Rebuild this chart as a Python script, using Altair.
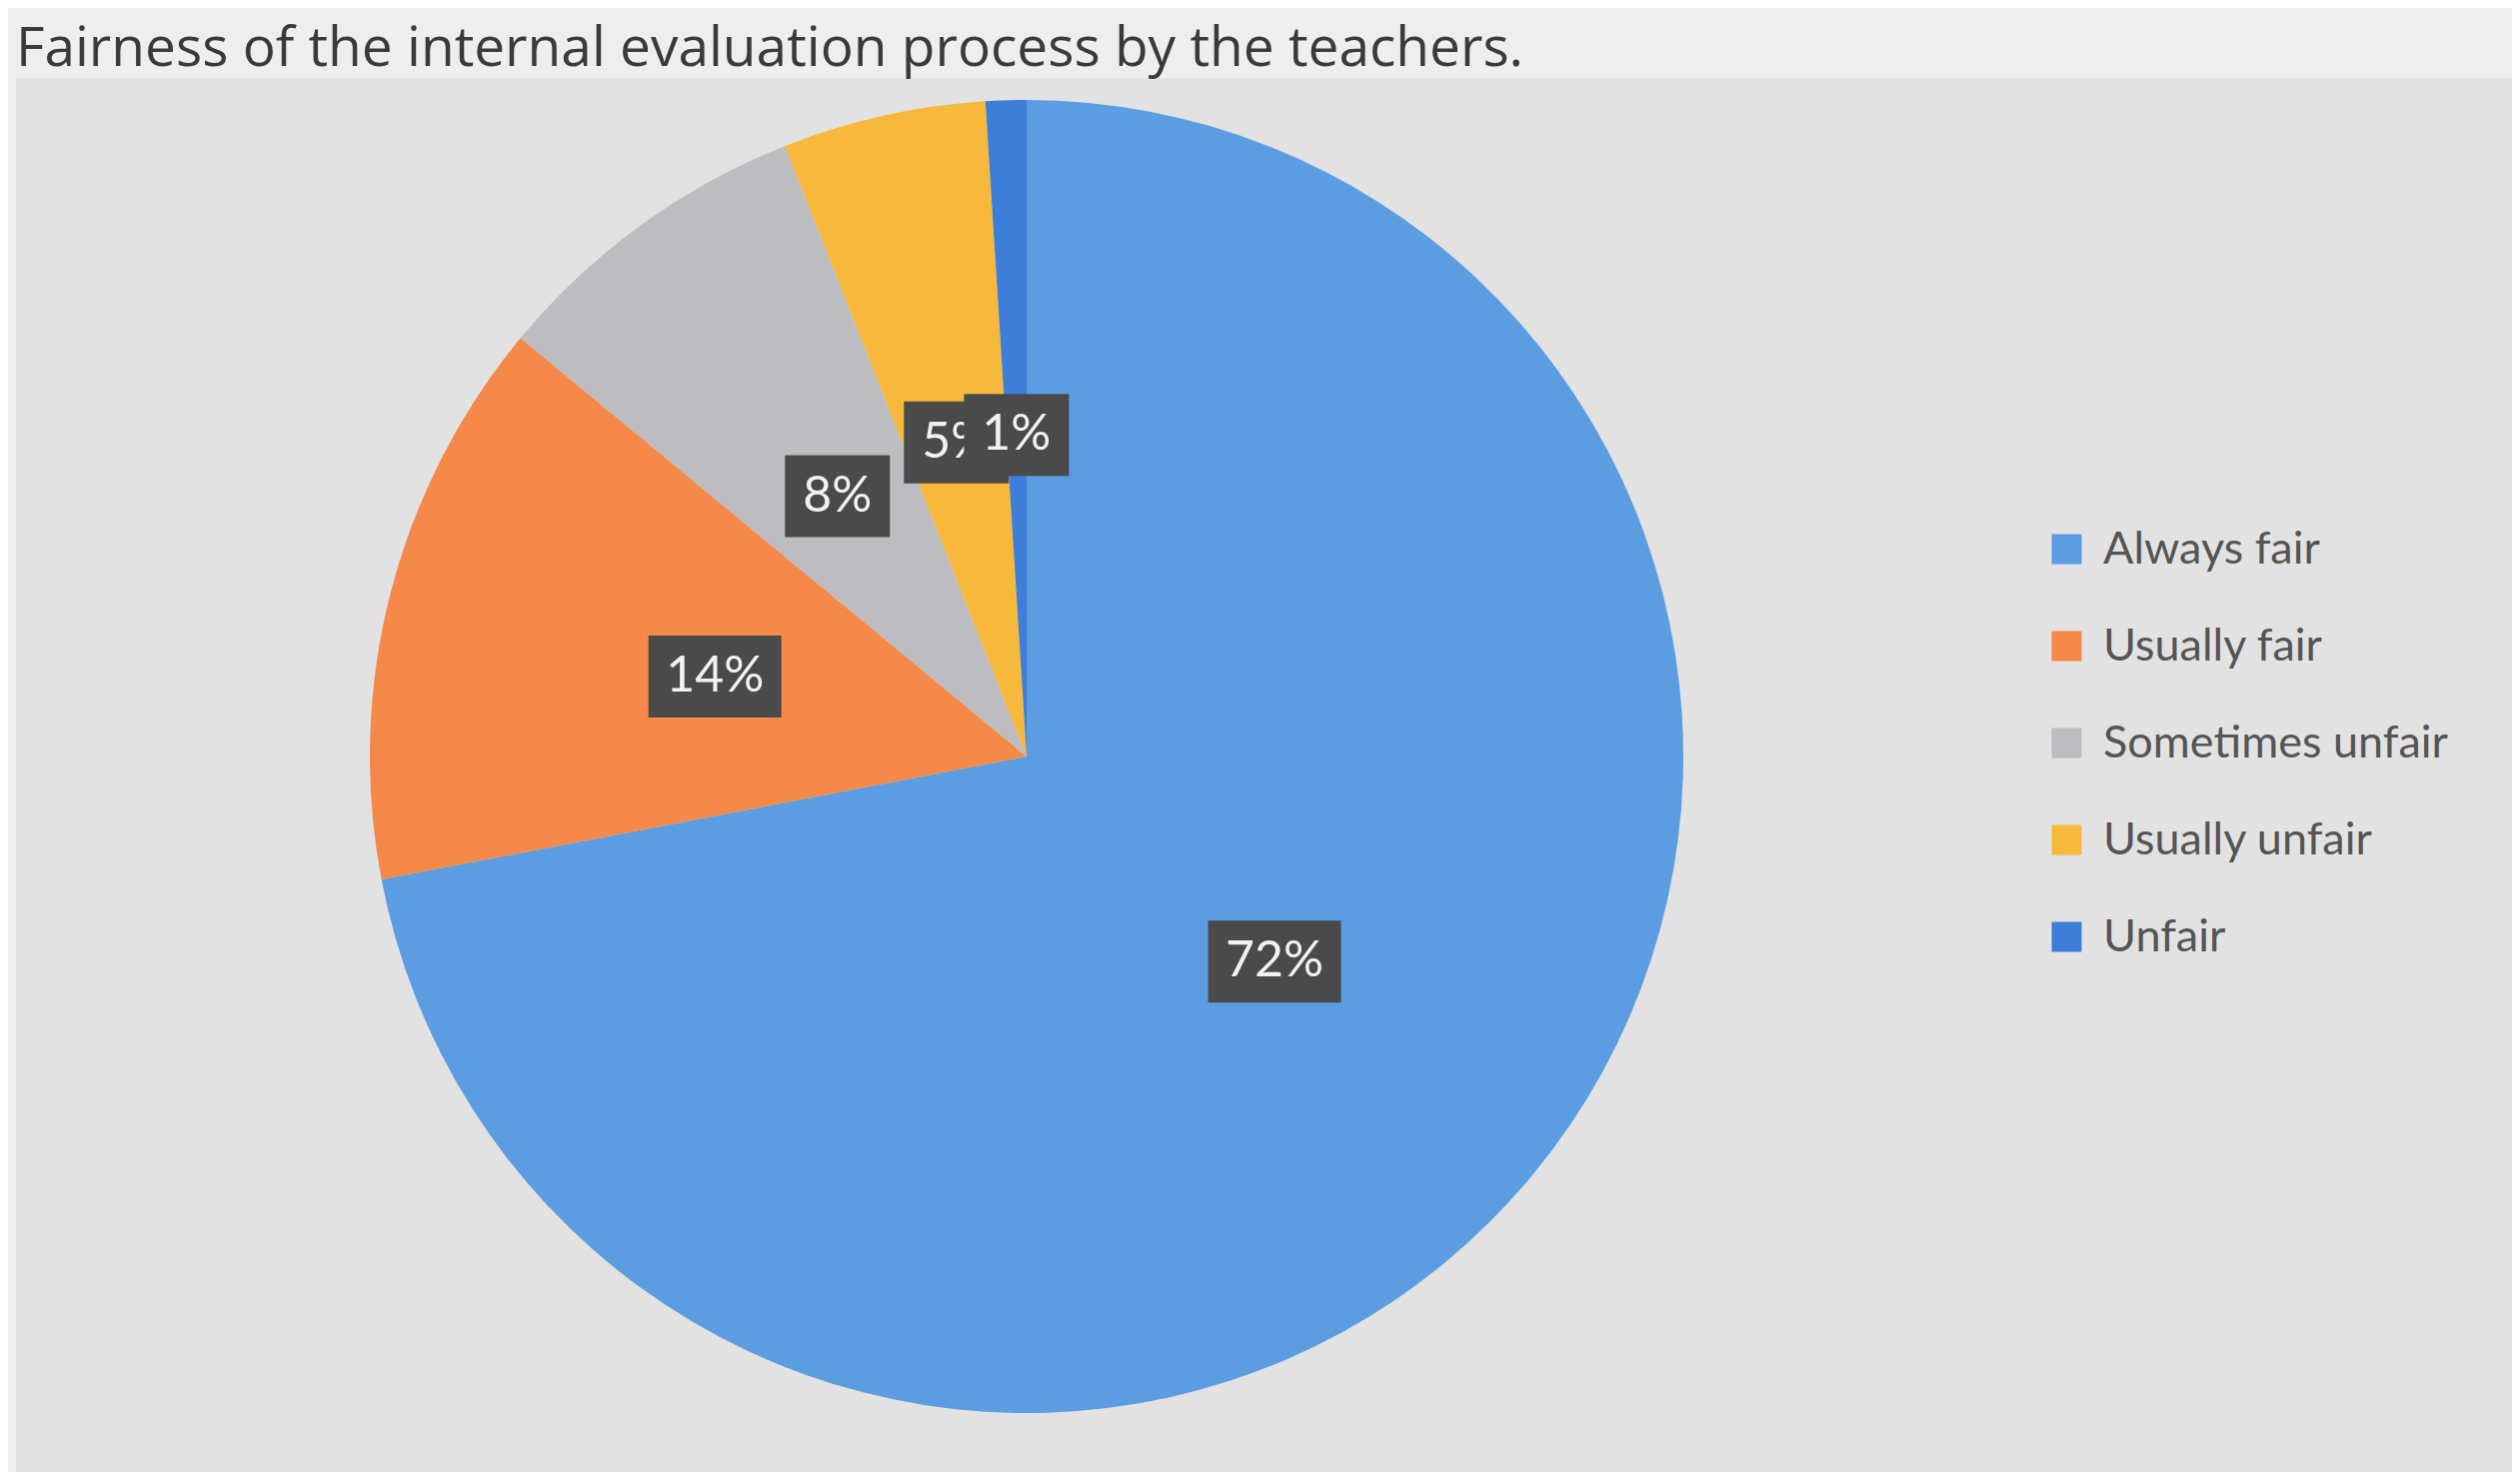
import altair as alt
import pandas as pd

title_text = "Fairness of the internal evaluation process by the teachers."
categories = ["Always fair", "Usually fair", "Sometimes unfair", "Usually unfair", "Unfair"]
values = [72, 14, 8, 5, 1]
labels = ["72%", "14%", "8%", "5%", "1%"]
colors = ["#5b9de0", "#f5894a", "#bdbcc1", "#f7b93b", "#3d7fd8"]

TOP = 70
W, H = 2497, 1465 - TOP
CX, CY, R = 1011, 757 - (TOP + 8), 657
LR = 0.49 * R

df = pd.DataFrame({"category": categories, "value": values, "label": labels, "order": list(range(len(categories)))})
base = alt.Chart(df)

pie = base.mark_arc(outerRadius=R).encode(
    theta=alt.Theta("value:Q", stack=True),
    color=alt.Color(
        "category:N",
        scale=alt.Scale(domain=categories, range=colors),
        sort=categories,
        legend=alt.Legend(
            title=None, orient="none", legendX=2029, legendY=527 - (TOP + 8),
            symbolType="square", symbolSize=900, symbolStrokeWidth=0,
            labelFontSize=45, labelFont="Lato", labelColor="#555555",
            labelLimit=0, rowPadding=51, labelOffset=14,
        ),
    ),
    order=alt.Order("order:Q"),
    x=alt.value(CX),
    y=alt.value(CY),
)

lab = base.transform_window(
    cum="sum(value)", sort=[alt.SortField("order")], frame=[None, 0]
).transform_joinaggregate(total="sum(value)").transform_calculate(
    ang="2*PI*(datum.cum - datum.value/2)/datum.total",
    lx=f"{CX} + {LR}*sin(datum.ang)",
    ly=f"{CY} - {LR}*cos(datum.ang)",
    bw="49 + 28*length(datum.label)",
).transform_calculate(
    x1="datum.lx - datum.bw/2",
    x2="datum.lx + datum.bw/2",
    y1="datum.ly - 41",
    y2="datum.ly + 41",
)


def label_layers(filt):
    d = lab.transform_filter(filt)
    rect = d.mark_rect(color="#4a4a4a").encode(
        x=alt.X("x1:Q", scale=None, axis=None), x2="x2:Q",
        y=alt.Y("y1:Q", scale=None, axis=None), y2="y2:Q",
    )
    txt = d.mark_text(font="Lato", fontSize=50, color="#f2f2f2", baseline="middle", align="center").encode(
        x=alt.X("lx:Q", scale=None, axis=None),
        y=alt.Y("ly:Q", scale=None, axis=None),
        text="label:N",
    )
    return [rect, txt]


title_layer = alt.Chart(pd.DataFrame({"t": [title_text]})).mark_text(
    font="Open Sans", fontSize=55, color="#3a3a3a", align="left", baseline="alphabetic"
).encode(text="t:N", x=alt.value(0), y=alt.value(-12))

chart = alt.layer(
    title_layer, pie,
    *label_layers("datum.order < 4"),
    *label_layers("datum.order == 4"),
).resolve_scale(x="independent", y="independent").properties(
    width=W, height=H,
    autosize=alt.AutoSizeParams(type="none"),
    padding={"left": 8, "top": TOP, "right": 0, "bottom": 0},
    background="#eeeeee",
).configure_view(fill="#e2e2e2", strokeWidth=0)

chart.save("out.html", embed_options={"renderer": "svg", "actions": False})
